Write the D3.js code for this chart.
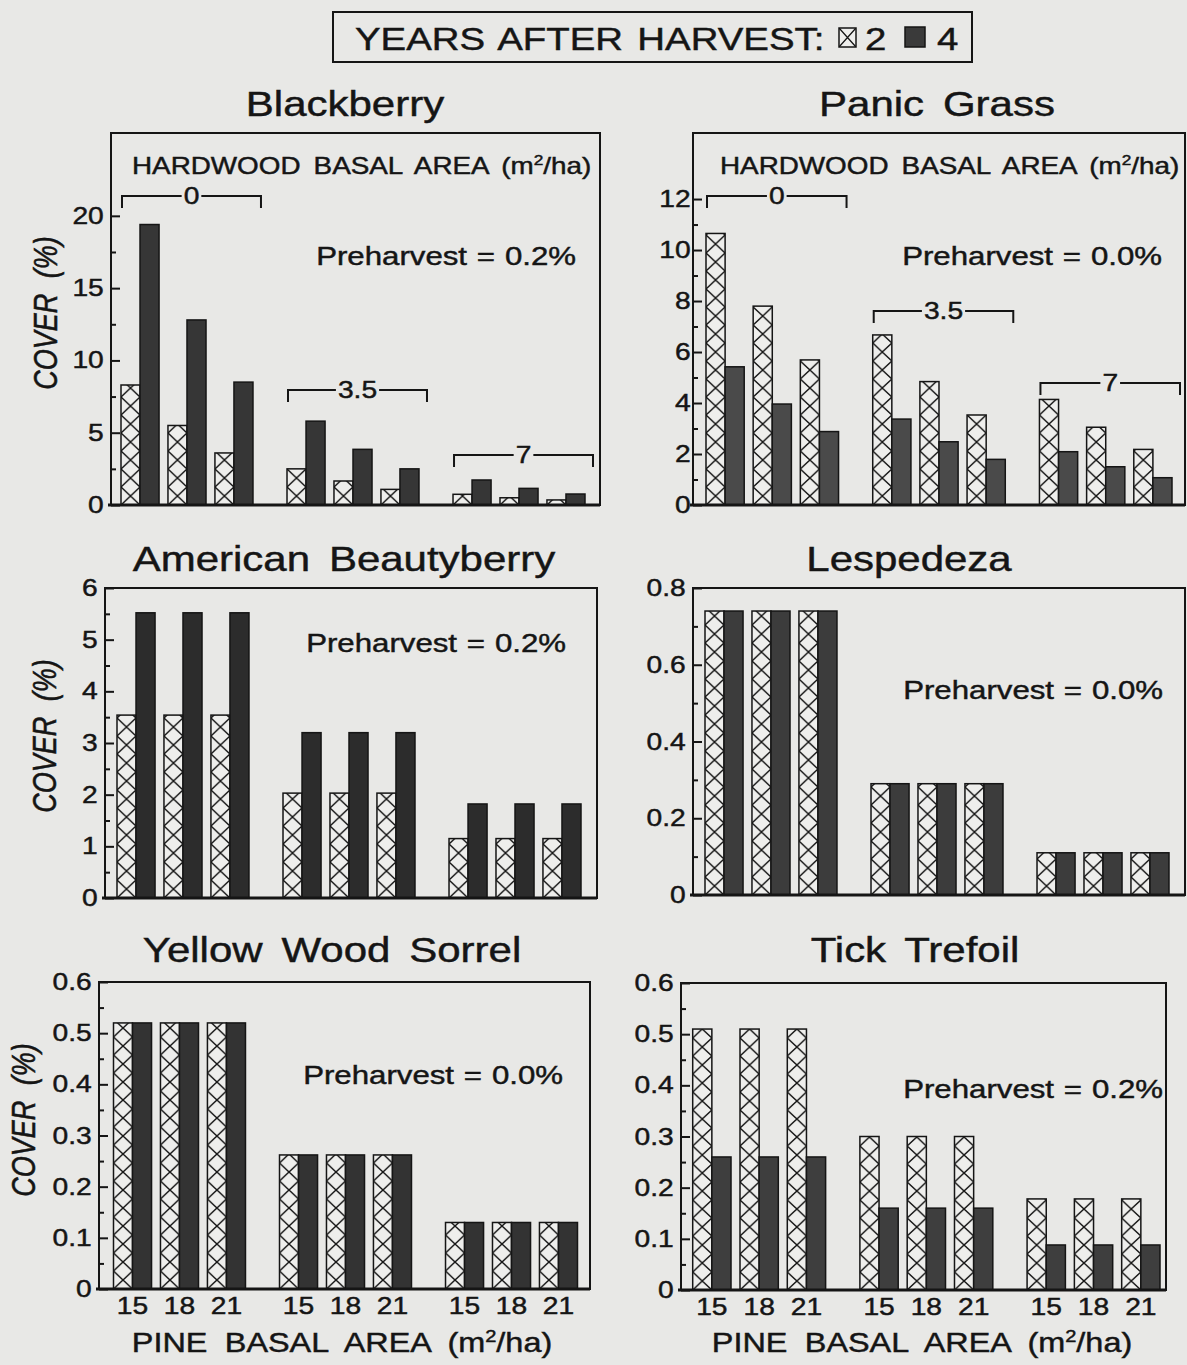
<!DOCTYPE html>
<html>
<head>
<meta charset="utf-8">
<script src="https://cdn.jsdelivr.net/npm/d3@7"></script>
<style>
  html, body { margin: 0; padding: 0; background: #e8e8e6; }
  svg { display: block; }
  text { font-family: Arial, "Liberation Sans", Helvetica, sans-serif; fill: #151515; stroke: #151515; stroke-width: 0.45px; }
</style>
</head>
<body>
<svg id="chart" width="1187" height="1365"></svg>
<script>
// categories
const hardwood = ['0', '3.5', '7'];
const pine = ['15', '18', '21'];
const years = ['2', '4'];

// cover (%), order: hardwood 0 -> pine 15,18,21 | hardwood 3.5 -> ... | hardwood 7 -> ...
const blackberry2 = [8.3, 5.5, 3.6, 2.5, 1.66, 1.08, 0.74, 0.5, 0.35];
const blackberry4 = [19.4, 12.8, 8.5, 5.8, 3.85, 2.5, 1.73, 1.15, 0.76];
const panic2 = [10.65, 7.8, 5.69, 6.67, 4.84, 3.53, 4.14, 3.05, 2.18];
const panic4 = [5.42, 3.96, 2.88, 3.37, 2.48, 1.79, 2.09, 1.5, 1.07];
const beauty2 = [3.54, 3.54, 3.54, 2.03, 2.03, 2.03, 1.15, 1.15, 1.15];
const beauty4 = [5.52, 5.52, 5.52, 3.2, 3.2, 3.2, 1.82, 1.82, 1.82];
const lespedeza2 = [0.74, 0.74, 0.74, 0.29, 0.29, 0.29, 0.11, 0.11, 0.11];
const lespedeza4 = [0.74, 0.74, 0.74, 0.29, 0.29, 0.29, 0.11, 0.11, 0.11];
const sorrel2 = [0.52, 0.52, 0.52, 0.262, 0.262, 0.262, 0.13, 0.13, 0.13];
const sorrel4 = [0.52, 0.52, 0.52, 0.262, 0.262, 0.262, 0.13, 0.13, 0.13];
const trefoil2 = [0.51, 0.51, 0.51, 0.30, 0.30, 0.30, 0.178, 0.178, 0.178];
const trefoil4 = [0.26, 0.26, 0.26, 0.16, 0.16, 0.16, 0.088, 0.088, 0.088];

// y tick labels
const ticksBlackberry = [0, 5, 10, 15, 20];
const minorBlackberry = [2.5, 7.5, 12.5, 17.5];
const ticksPanic = [0, 2, 4, 6, 8, 10, 12];
const minorPanic = [1, 3, 5, 7, 9, 11];
const ticksBeauty = [0, 1, 2, 3, 4, 5, 6];
const minorBeauty = [0.5, 1.5, 2.5, 3.5, 4.5, 5.5];
const ticksLespedeza = [0, 0.2, 0.4, 0.6, 0.8];
const minorLespedeza = [0.1, 0.3, 0.5, 0.7];
const ticksSmall = [0, 0.1, 0.2, 0.3, 0.4, 0.5, 0.6];
const minorSmall = [0.05, 0.15, 0.25, 0.35, 0.45, 0.55];

const SX = 1.2; // the scan is stretched sideways, text too

// panel layout: frame [left, top, right, bottom], bars [first bar x, last bar end]
const panels = [
  { title: 'Blackberry', v2: blackberry2, v4: blackberry4, pre: '0.2%', yMax: 25.73,
    major: ticksBlackberry, minor: minorBlackberry, dark: '#363636',
    frame: [111, 133, 600, 505], bars: [121, 585], titleAt: [345, 116], preAt: [576, 265],
    hardwoodAt: [132, 174], brackets: [21.37, 7.95, 3.46], yLabelAt: [46, 313] },
  { title: 'Panic Grass', v2: panic2, v4: panic4, pre: '0.0%', yMax: 14.59,
    major: ticksPanic, minor: minorPanic, dark: '#4a4a4a', labelPad: 2,
    frame: [693, 133, 1185, 505], bars: [706, 1172], titleAt: [937, 116], preAt: [1162, 265],
    hardwoodAt: [720, 174], brackets: [12.12, 7.61, 4.78] },
  { title: 'American Beautyberry', v2: beauty2, v4: beauty4, pre: '0.2%', yMax: 6,
    major: ticksBeauty, minor: minorBeauty, dark: '#2c2c2c',
    frame: [105, 588, 597, 898], bars: [117, 581], titleAt: [344, 571], preAt: [566, 652],
    yLabelAt: [45, 736] },
  { title: 'Lespedeza', v2: lespedeza2, v4: lespedeza4, pre: '0.0%', yMax: 0.8,
    major: ticksLespedeza, minor: minorLespedeza, dark: '#3c3c3c',
    frame: [693, 588, 1185, 895], bars: [705, 1169], titleAt: [909, 571], preAt: [1163, 699] },
  { title: 'Yellow Wood Sorrel', v2: sorrel2, v4: sorrel4, pre: '0.0%', yMax: 0.6,
    major: ticksSmall, minor: minorSmall, dark: '#333333',
    frame: [99, 982, 590, 1289], bars: [113.5, 577.5], titleAt: [332, 962], preAt: [563, 1084],
    yLabelAt: [24, 1120], xLabels: true, xTitleAt: [342, 1352] },
  { title: 'Tick Trefoil', v2: trefoil2, v4: trefoil4, pre: '0.2%', yMax: 0.6,
    major: ticksSmall, minor: minorSmall, dark: '#3e3e3e',
    frame: [681, 983, 1166, 1290], bars: [692.7, 1160], titleAt: [915, 962], preAt: [1163, 1098],
    xLabels: true, xTitleAt: [922, 1352] }
];

const svg = d3.select('#chart');
const defs = svg.append('defs');

// stretched text helper
function stext(parent, x, y, size, str) {
  return parent.append('text')
      .attr('transform', `translate(${x},${y}) scale(${SX},1)`)
      .attr('font-size', size)
      .text(str);
}

function hatchPattern(id, w, h) {
  const p = defs.append('pattern')
      .attr('id', id)
      .attr('patternUnits', 'userSpaceOnUse')
      .attr('width', w)
      .attr('height', h);
  p.append('rect').attr('width', w).attr('height', h).attr('fill', '#eeeeec');
  p.append('path')
      .attr('d', `M0,0L${w},${h}M${w},0L0,${h}`)
      .attr('stroke', '#151515')
      .attr('stroke-width', 1.4)
      .attr('fill', 'none');
}

// mixed text with m² superscript
function unitText(parent, x, y, size, lead, ws) {
  const t = parent.append('text')
      .attr('transform', `translate(${x},${y}) scale(${SX},1)`)
      .attr('font-size', size)
      .attr('word-spacing', ws);
  t.append('tspan').text(lead + ' (m');
  t.append('tspan').attr('dy', -size * 0.38).attr('font-size', size * 0.62).text('2');
  t.append('tspan').attr('dy', size * 0.38).text('/ha)');
  return t;
}

function drawPanel(p, i) {
  const [x0, top, x1, bottom] = p.frame;
  const g = svg.append('g').attr('class', 'panel');

  const y = d3.scaleLinear().domain([0, p.yMax]).range([bottom, top]);
  const gx = d3.scaleBand().domain(hardwood).range(p.bars).paddingInner(0.205);
  const px = d3.scaleBand().domain(pine).range([0, gx.bandwidth()]).paddingInner(0.19);
  const yx = d3.scaleBand().domain(years).range([0, px.bandwidth()]);
  const bw = yx.bandwidth();

  const hid = 'hatch' + i;
  hatchPattern(hid, bw, 18);

  const rows = [];
  hardwood.forEach((h, hi) => pine.forEach((pn, pi) => years.forEach(yr => {
    rows.push({ h, pn, yr, v: (yr === '2' ? p.v2 : p.v4)[hi * 3 + pi] });
  })));

  // bars, each in its own group so the hatch lines up with the bar edge
  const bars = g.selectAll('.bar')
      .data(rows)
      .join('g')
      .attr('class', 'bar')
      .attr('transform', d => `translate(${gx(d.h) + px(d.pn) + yx(d.yr)},${y(0)})`);

  bars.append('rect')
      .attr('x', 0)
      .attr('y', d => y(d.v) - y(0))
      .attr('width', bw)
      .attr('height', d => y(0) - y(d.v))
      .attr('fill', d => d.yr === '2' ? `url(#${hid})` : p.dark)
      .attr('stroke', '#151515')
      .attr('stroke-width', 1.5);

  // frame
  g.append('rect')
      .attr('x', x0).attr('y', top)
      .attr('width', x1 - x0).attr('height', bottom - top)
      .attr('fill', 'none')
      .attr('stroke', '#151515')
      .attr('stroke-width', 2);
  g.append('line')
      .attr('x1', x0 - 3).attr('x2', x1)
      .attr('y1', bottom).attr('y2', bottom)
      .attr('stroke', '#151515')
      .attr('stroke-width', 3);

  // y axis, ticks pointing inward
  const pad = p.labelPad !== undefined ? p.labelPad : 6;
  const ax = g.append('g')
      .attr('transform', `translate(${x0},0)`)
      .call(d3.axisLeft(y).tickValues(p.major).tickSize(-9).tickPadding(pad).tickFormat(d3.format('~g')));
  ax.select('.domain').remove();
  ax.attr('font-size', 23.5).attr('font-family', null);
  ax.selectAll('line').attr('stroke', '#151515').attr('stroke-width', 2);
  ax.selectAll('text').attr('transform', `scale(${SX},1)`).attr('fill', '#151515');

  const mx = g.append('g')
      .attr('transform', `translate(${x0},0)`)
      .call(d3.axisLeft(y).tickValues(p.minor).tickSize(-5).tickFormat(''));
  mx.select('.domain').remove();
  mx.selectAll('line').attr('stroke', '#151515').attr('stroke-width', 2);

  // title
  stext(g, p.titleAt[0], p.titleAt[1], 35, p.title)
      .attr('text-anchor', 'middle')
      .attr('word-spacing', 6);

  // preharvest note
  stext(g, p.preAt[0], p.preAt[1], 26, 'Preharvest = ' + p.pre)
      .attr('text-anchor', 'end')
      .attr('word-spacing', 1);

  // hardwood brackets
  if (p.hardwoodAt) {
    unitText(g, p.hardwoodAt[0], p.hardwoodAt[1], 23.2, 'HARDWOOD BASAL AREA', 4.5);
    hardwood.forEach((h, hi) => {
      const a = gx(h) + 1;
      const b = gx(h) + gx.bandwidth() + 8;
      const yy = y(p.brackets[hi]);
      const c = (a + b) / 2;
      const lab = stext(g, c, yy, 23.5, h)
          .attr('text-anchor', 'middle')
          .attr('dominant-baseline', 'central');
      const half = lab.node().getComputedTextLength() * SX / 2 + 2;
      g.append('path')
          .attr('d', `M${a},${yy + 12}V${yy}H${c - half}M${c + half},${yy}H${b}V${yy + 12}`)
          .attr('fill', 'none')
          .attr('stroke', '#151515')
          .attr('stroke-width', 2);
    });
  }

  // y axis title
  if (p.yLabelAt) {
    g.append('text')
        .attr('transform', `translate(${p.yLabelAt[0]},${p.yLabelAt[1]}) scale(${SX},1) rotate(-90)`)
        .attr('text-anchor', 'middle')
        .attr('dominant-baseline', 'central')
        .attr('font-size', 27)
        .attr('font-style', 'italic')
        .attr('word-spacing', 8)
        .text('COVER (%)');
  }

  // x tick labels and title
  if (p.xLabels) {
    hardwood.forEach(h => pine.forEach(pn => {
      stext(g, gx(h) + px(pn) + px.bandwidth() / 2, bottom + 25, 23.5, pn)
          .attr('text-anchor', 'middle');
    }));
    unitText(g, p.xTitleAt[0], p.xTitleAt[1], 27, 'PINE BASAL AREA', 7)
        .attr('text-anchor', 'middle');
  }
}

panels.forEach(drawPanel);

// legend
const lg = svg.append('g').attr('class', 'legend');
lg.append('rect')
    .attr('x', 333).attr('y', 12)
    .attr('width', 639).attr('height', 50)
    .attr('fill', 'none')
    .attr('stroke', '#151515')
    .attr('stroke-width', 2);
stext(lg, 355, 50, 32, 'YEARS AFTER HARVEST:').attr('word-spacing', 3);

hatchPattern('hatchLegend', 17, 19);
lg.append('g')
    .attr('transform', 'translate(839,28)')
    .append('rect')
    .attr('width', 17).attr('height', 19)
    .attr('fill', 'url(#hatchLegend)')
    .attr('stroke', '#151515')
    .attr('stroke-width', 1.5);
stext(lg, 865, 50, 32, years[0]);
lg.append('rect')
    .attr('x', 905).attr('y', 27)
    .attr('width', 20).attr('height', 20)
    .attr('fill', '#3a3a3a')
    .attr('stroke', '#151515')
    .attr('stroke-width', 1.5);
stext(lg, 937, 50, 32, years[1]);
</script>
</body>
</html>
